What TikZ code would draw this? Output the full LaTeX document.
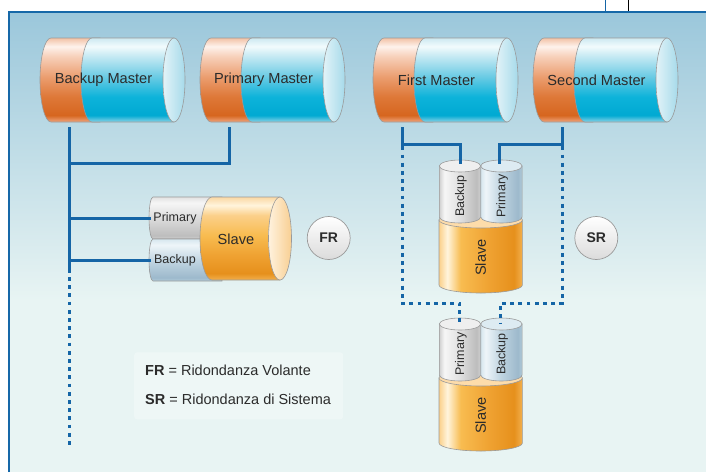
\documentclass[tikz,border=0pt]{standalone}
\usepackage{fontspec}
\setmainfont{Liberation Sans}
% colours
\definecolor{bgtop}{HTML}{9BC7DB}
\definecolor{bgbot}{HTML}{E8F4F3}
\definecolor{framecol}{HTML}{1668A8}
\definecolor{linecol}{HTML}{1565A6}
\definecolor{cylline}{HTML}{9A9A9A}
\definecolor{textcol}{HTML}{2B2B2B}
% master blue
\definecolor{mb0}{HTML}{8AD4E8}\definecolor{mb1}{HTML}{00A9D2}\definecolor{mb2}{HTML}{0DB3DA}
\definecolor{mb3}{HTML}{6ACBE4}\definecolor{mb4}{HTML}{C4E9F3}\definecolor{mb5}{HTML}{F2FBFD}\definecolor{mb6}{HTML}{CDE9F1}
% master orange
\definecolor{mo0}{HTML}{EFA57E}\definecolor{mo1}{HTML}{D6661F}\definecolor{mo2}{HTML}{DE7838}
\definecolor{mo3}{HTML}{EB9E70}\definecolor{mo4}{HTML}{F7D0BA}\definecolor{mo5}{HTML}{FEF2EC}\definecolor{mo6}{HTML}{F2C2A6}
% slave yellow-orange
\definecolor{my0}{HTML}{F2B04E}\definecolor{my1}{HTML}{E6901C}\definecolor{my2}{HTML}{EFA232}
\definecolor{my3}{HTML}{F8BC50}\definecolor{my4}{HTML}{FBD08A}\definecolor{my5}{HTML}{FFF4DC}\definecolor{my6}{HTML}{FAD8A4}
% small gray / blue-gray
\definecolor{gy0}{HTML}{D0D0D0}\definecolor{gy1}{HTML}{BDBDBD}\definecolor{gy2}{HTML}{DCDCDC}\definecolor{gy3}{HTML}{F6F6F6}\definecolor{gy4}{HTML}{E2E2E2}
\definecolor{bg0}{HTML}{B2CCDA}\definecolor{bg1}{HTML}{9DB9CC}\definecolor{bg2}{HTML}{C2D6E2}\definecolor{bg3}{HTML}{EEF5F9}\definecolor{bg4}{HTML}{D6E6EE}
% ends
\definecolor{endl}{HTML}{E2F3F8}\definecolor{endr}{HTML}{A6DAEA}
\definecolor{yendl}{HTML}{FFF2DE}\definecolor{yendr}{HTML}{F8CF92}
\definecolor{slavetop}{HTML}{FDDCAA}
\definecolor{graytop}{HTML}{EFEFEF}
\definecolor{bluetop}{HTML}{DDEBF2}
% shadings (25bp = bottom/left of path, 75bp = top/right)
\pgfdeclareverticalshading{mastbl}{100bp}{color(0bp)=(mb0); color(25bp)=(mb0); color(29bp)=(mb1); color(40bp)=(mb2); color(52bp)=(mb3); color(64bp)=(mb4); color(70bp)=(mb5); color(75bp)=(mb6); color(100bp)=(mb6)}
\pgfdeclareverticalshading{mastor}{100bp}{color(0bp)=(mo0); color(25bp)=(mo0); color(29bp)=(mo1); color(40bp)=(mo2); color(52bp)=(mo3); color(64bp)=(mo4); color(70bp)=(mo5); color(75bp)=(mo6); color(100bp)=(mo6)}
\pgfdeclareverticalshading{slaveh}{100bp}{color(0bp)=(my0); color(25bp)=(my0); color(29bp)=(my1); color(40bp)=(my2); color(52bp)=(my3); color(64bp)=(my4); color(70bp)=(my5); color(75bp)=(my6); color(100bp)=(my6)}
\pgfdeclareverticalshading{grayh}{100bp}{color(0bp)=(gy0); color(25bp)=(gy0); color(29bp)=(gy1); color(50bp)=(gy2); color(68bp)=(gy3); color(75bp)=(gy4); color(100bp)=(gy4)}
\pgfdeclareverticalshading{blueh}{100bp}{color(0bp)=(bg0); color(25bp)=(bg0); color(29bp)=(bg1); color(50bp)=(bg2); color(68bp)=(bg3); color(75bp)=(bg4); color(100bp)=(bg4)}
\pgfdeclarehorizontalshading{slavev}{100bp}{color(0bp)=(my4); color(25bp)=(my4); color(30bp)=(my5); color(38bp)=(my3); color(55bp)=(my2); color(70bp)=(my1); color(75bp)=(my0); color(100bp)=(my0)}
\pgfdeclarehorizontalshading{grayv}{100bp}{color(0bp)=(gy0); color(25bp)=(gy0); color(31bp)=(gy3); color(48bp)=(gy4); color(70bp)=(gy1); color(75bp)=(gy0); color(100bp)=(gy0)}
\pgfdeclarehorizontalshading{bluev}{100bp}{color(0bp)=(bg4); color(25bp)=(bg4); color(31bp)=(bg3); color(48bp)=(bg2); color(70bp)=(bg1); color(75bp)=(bg0); color(100bp)=(bg0)}

\tikzset{
  mtext/.style={font=\fontsize{14.6}{17}\selectfont, text=textcol, inner sep=0pt},
  stext/.style={font=\fontsize{12.5}{15}\selectfont, text=textcol, inner sep=0pt},
  ltext/.style={font=\fontsize{14.5}{17}\selectfont, text=textcol, inner sep=0pt, anchor=west},
  circ/.style={circle, draw=cylline, line width=0.7pt, minimum size=43pt, inner sep=0pt,
     top color=white, bottom color=black!14, font=\bfseries\fontsize{14}{16}\selectfont, text=textcol},
  legbox/.style={fill=white, fill opacity=0.3, rounded corners=3pt, minimum width=209pt, minimum height=67pt, inner sep=0pt},
  conn/.style={draw=linecol, line width=3pt},
  dotline/.style={draw=linecol, line width=3pt, dash pattern=on 3.8pt off 4.4pt},
  cyl/.style={draw=cylline, line width=0.6pt}
}

\newcommand{\mastercyl}[3]{%
  \shadedraw[shading=mastor, cyl] ({#1+11},38) arc[start angle=270,end angle=90,x radius=11,y radius=42] -- ({#1+60},122) -- ({#1+60},38) -- cycle;
  \shadedraw[shading=mastbl, cyl] ({#1+52},38) arc[start angle=270,end angle=90,x radius=11,y radius=42] -- ({#1+134},122) -- ({#1+134},38) -- cycle;
  \draw[cyl, left color=endl, right color=endr] ({#1+134},80) ellipse[x radius=11, y radius=42];
  \node[mtext] (#2) at ({#1+63.5},80) {#3};
}
\newcommand{\hsmallcyl}[4]{%
  \shadedraw[shading=#2, cyl] (153,{#1-21}) arc[start angle=270,end angle=90,x radius=4,y radius=21] -- (222,{#1+21}) -- (222,{#1-21}) -- cycle;
  \node[stext] (#3) at (175,#1) {#4};
}
\newcommand{\vsmallcyl}[6]{% cx, offset, shading, topcolor, name, label
  \shadedraw[shading=#3, cyl] ({#1-20.7},{166+#2}) -- ({#1-20.7},{217+#2}) arc[start angle=180,end angle=0,x radius=20.7,y radius=6] -- ({#1+20.7},{166+#2}) -- cycle;
  \draw[cyl, fill=#4] (#1,{166+#2}) ellipse[x radius=20.7, y radius=6];
  \node[stext, rotate=90] (#5) at ({#1+0.8},{196+#2}) {#6};
}
\newcommand{\vslavecyl}[2]{% offset, name
  \shadedraw[shading=slavev, cyl] (439,{220+#1}) -- (439,{285+#1}) arc[start angle=180,end angle=0,x radius=41.7,y radius=8] -- (522.4,{220+#1}) -- cycle;
  \draw[cyl, fill=slavetop] (480.7,{220+#1}) ellipse[x radius=41.7, y radius=8];
  \node[mtext, rotate=90] (#2) at (480.7,{257.5+#1}) {Slave};
}

\begin{document}
\begin{tikzpicture}[x=1pt,y=-1pt]
\useasboundingbox (0,0) rectangle (706,472);
% background
\fill[white] (0,0) rectangle (706,12);
\shade[top color=bgtop, bottom color=bgbot] (9,12) rectangle (706,300);
\fill[bgbot] (9,299.5) rectangle (706,472);
\draw[framecol, line width=2pt] (9,472) -- (9,12) -- (706,12);
\draw[linecol, line width=0.8pt] (605.3,0) -- (605.3,11);
\draw[black, line width=0.8pt] (628.5,0) -- (628.5,11);

% masters
\mastercyl{40}{bm}{Backup Master}
\mastercyl{200}{pm}{Primary Master}
\mastercyl{373}{fm}{First Master}
\mastercyl{533}{sm}{Second Master}

% FR slave group
\hsmallcyl{218}{grayh}{frprim}{Primary}
\hsmallcyl{260}{blueh}{frback}{Backup}
\shadedraw[shading=slaveh, cyl] (212,197) arc[start angle=270,end angle=90,x radius=12,y radius=41.5] -- (280,280) -- (280,197) -- cycle;
\draw[cyl, left color=yendl, right color=yendr] (280,238.5) ellipse[x radius=11.5, y radius=41.5];
\node[mtext] (frslave) at (236,239) {Slave};
\node[circ] (fr) at (328.7,238) {FR};

% SR groups
\vslavecyl{0}{srslave1}
\vsmallcyl{460}{0}{grayv}{graytop}{srback1}{Backup}
\vsmallcyl{501.4}{0}{bluev}{bluetop}{srprim1}{Primary}
\vslavecyl{158}{srslave2}
\vsmallcyl{460}{158}{grayv}{graytop}{srprim2}{Primary}
\vsmallcyl{501.4}{158}{bluev}{bluetop}{srback2}{Backup}
\node[circ] (sr) at (596.3,238) {SR};

% legend
\node[legbox] (legend) at (238.7,385.8) {};
\node[ltext] (leg1) at (145,370) {\textbf{FR} = Ridondanza Volante};
\node[ltext] (leg2) at (145,399.5) {\textbf{SR} = Ridondanza di Sistema};

% connector points
\coordinate (bmo) at (69,127);
\coordinate (lsol) at (69,273);
\coordinate (ldot) at (69,277);
\coordinate (lend) at (69,447);
\coordinate (pmo) at (229,127);
\coordinate (j1) at (69,163);
\coordinate (j2) at (69,218);
\coordinate (j3) at (69,260);
\coordinate (frprim-in) at (151,218);
\coordinate (frback-in) at (151,260);
\coordinate (fmo) at (402,127);
\coordinate (fmh) at (402,144.7);
\coordinate (fms) at (402,150);
\coordinate (fmd) at (402,154.5);
\coordinate (fmc) at (402,303);
\coordinate (smo) at (562.3,127);
\coordinate (smh) at (562.3,144.7);
\coordinate (sms) at (562.3,150);
\coordinate (smd) at (562.3,154.5);
\coordinate (smc) at (562.3,303);
\coordinate (srback1-in) at (460.7,164);
\coordinate (srprim1-in) at (499.3,164);
\coordinate (srprim2-in) at (459.7,323);
\coordinate (srback2-in) at (500.7,323);

% connectors
\draw[conn] (bmo) -- (lsol);
\draw[dotline] (ldot) -- (lend);
\draw[conn] (pmo) |- (j1);
\draw[conn] (j2) -- (frprim-in);
\draw[conn] (j3) -- (frback-in);
\draw[conn] (fmo) -- (fms);
\draw[conn] (fmh) -| (srback1-in);
\draw[dotline] (fmd) -- (fmc) -| (srprim2-in);
\draw[conn] (smo) -- (sms);
\draw[conn] (smh) -| (srprim1-in);
\draw[dotline] (smd) -- (smc) -| (srback2-in);
\end{tikzpicture}
\end{document}
